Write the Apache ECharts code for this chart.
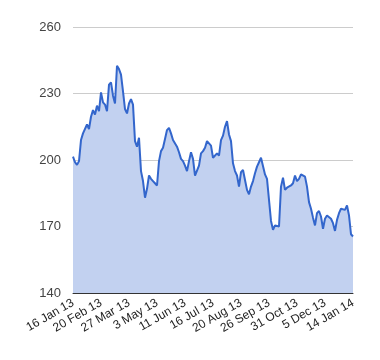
<!DOCTYPE html>
<html><head><meta charset="utf-8">
<script src="https://cdn.jsdelivr.net/npm/echarts@6/dist/echarts.min.js"></script>
<style>html,body{margin:0;padding:0;background:#fff}#c{width:380px;height:360px}</style>
</head><body><div id="c"></div>
<script>
const tickLabels = ['16 Jan 13','20 Feb 13','27 Mar 13','3 May 13','11 Jun 13','16 Jul 13','20 Aug 13','26 Sep 13','31 Oct 13','5 Dec 13','14 Jan 14'];
const yTicks = [140, 170, 200, 230, 260];
const values = [
201.5,199,197.8,199.5,209,212,212.8,216,214,219.5,
222.5,220.5,224.5,222,230.5,226,225,222,234,235,
229,225.5,242.5,241,238.5,231,223,221,225.5,227.5,
225,208.5,206,210,195,190.5,183,187,193,191.5,
190.5,189.5,188.5,199.5,204,205.5,209.5,213.5,214.5,212,
209,208.5,206,203.5,200.5,199.5,197.5,195,199.5,203.5,
200.5,193,192.5,197.5,203,204,205.5,208.5,208.5,206.5,
201,201.5,203,202,209,211,215,217.5,211.5,208.5,
198.5,195,193,188,194.5,195.5,191,186.5,184.5,188,
190.5,194,197,199,201,200.5,193.5,191.5,182,172.5,
168.5,170.5,170,170,188,192,186.5,187.5,187,188.5,
189.5,193,190.5,191.5,193.5,194,192.5,188,181,178,
174,170.5,176,177,174.5,169,173.5,175,175.5,173.5,
171.5,168,173,176,178,178.5,177.5,179.5,175,166.5,
165.5
];
const step = (values.length - 1) / (tickLabels.length - 1);
const cats = values.map((_, i) => String(i));
const chart = echarts.init(document.getElementById('c'), null, {renderer:'canvas'});
chart.setOption({
  animation: false,
  grid: {left: 73, right: 27, top: 27, bottom: 67, containLabel: false},
  xAxis: {
    type: 'category', data: cats, boundaryGap: false,
    axisLine: {show: true, lineStyle: {color: '#333', width: 1}},
    axisTick: {show: false},
    splitLine: {show: false},
    axisLabel: {
      interval: step - 1, rotate: 30, margin: 9,
      fontFamily: 'Liberation Sans, Arial, sans-serif', fontSize: 12, color: '#222',
      formatter: (v, i) => { const k = Math.round(Number(v) / step); return tickLabels[k] || ''; }
    }
  },
  yAxis: {
    type: 'value', min: yTicks[0], max: yTicks[yTicks.length-1], interval: 30,
    axisLine: {show: false}, axisTick: {show: false},
    splitLine: {lineStyle: {color: '#ccc', width: 1}},
    axisLabel: {margin: 12, fontFamily: 'Liberation Sans, Arial, sans-serif', fontSize: 13, color: '#444'}
  },
  series: [{
    type: 'line', data: values, showSymbol: false, symbol: 'none',
    lineStyle: {color: '#3366cc', width: 2},
    areaStyle: {color: '#c2d1f0', opacity: 1},
    z: 3
  }]
});
</script></body></html>
